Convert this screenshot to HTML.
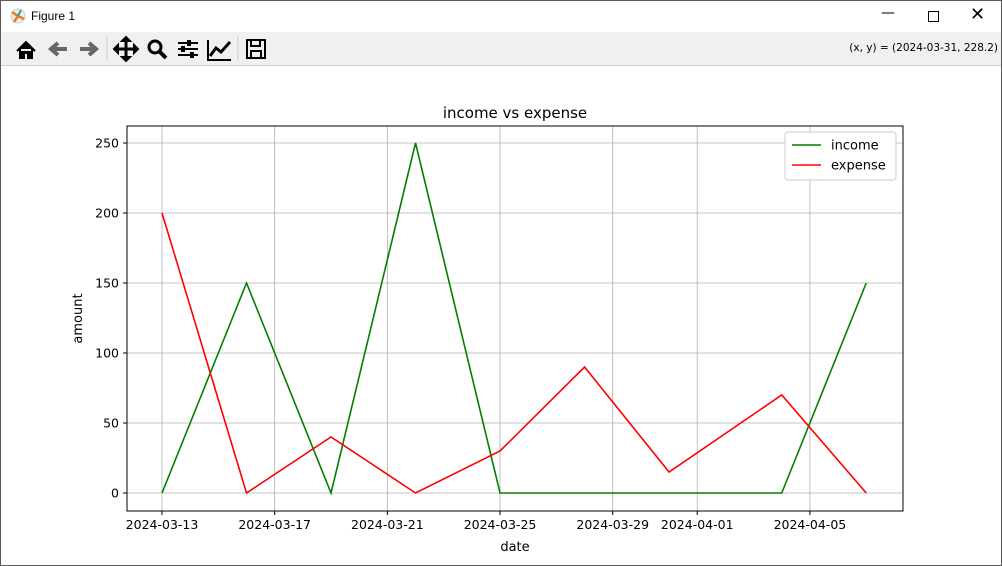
<!DOCTYPE html>
<html><head><meta charset="utf-8"><style>
body{margin:0;width:1002px;height:566px;overflow:hidden;background:#fff;font-family:"DejaVu Sans","Liberation Sans",sans-serif;}
#win{position:absolute;left:0;top:0;width:1000px;height:564px;border:1px solid #5a5a5a;background:#fff;}
#title{position:absolute;left:0;top:0;width:1000px;height:31px;background:#fff;}
#tb{position:absolute;left:0;top:31px;width:1000px;height:33px;background:#f0f0f0;border-bottom:1px solid #d0d0d0;}
</style></head><body>
<div id="win">
<div id="title">
 <svg width="20" height="20" style="position:absolute;left:8px;top:6px"><circle cx="9" cy="9" r="7" fill="#eee" stroke="#ccc"/><path d="M9 9L3 5M9 9L5 15M9 9L15 12" stroke="#e87a1a" stroke-width="2.5"/><path d="M9 9L12 3" stroke="#3a8" stroke-width="2"/></svg>
 <span style="position:absolute;left:30px;top:8px;font-size:12px;font-family:'Liberation Sans',sans-serif">Figure 1</span>
 <span style="position:absolute;left:880px;top:4px;font-size:14px">—</span>
 <div style="position:absolute;left:927px;top:10px;width:9px;height:9px;border:1px solid #000"></div>
 <span style="position:absolute;left:969px;top:3px;font-size:18px">✕</span>
</div>
<div id="tb">
 <svg width="1000" height="33" style="position:absolute;left:0;top:0">
  <g><path d="M16 19L25 10L34 19M19 17V26H23V21H27V26H31V17" fill="#000" stroke="#000" stroke-width="2"/></g>
  <g><path d="M66 17H51M57 11L50 17L57 23" stroke="#666" stroke-width="4" fill="none"/></g>
  <g><path d="M79 17H94M88 11L95 17L88 23" stroke="#666" stroke-width="4" fill="none"/></g>
  <line x1="106" y1="5" x2="106" y2="29" stroke="#ccc"/>
  <g><path d="M125 6V28M114 17H136" stroke="#000" stroke-width="3"/><path d="M121 9L125 5L129 9ZM121 25L125 29L129 25ZM117 13L113 17L117 21ZM133 13L137 17L133 21Z" fill="#000" stroke="#000" stroke-width="2"/></g>
  <g><circle cx="154" cy="15" r="6" stroke="#000" stroke-width="3" fill="none"/><path d="M158 19L165 26" stroke="#000" stroke-width="4"/></g>
  <g><path d="M177 11H197M177 17H197M177 23H197" stroke="#000" stroke-width="2"/><rect x="186" y="8" width="4" height="6" fill="#000"/><rect x="180" y="14" width="4" height="6" fill="#000"/><rect x="189" y="20" width="4" height="6" fill="#000"/></g>
  <g><path d="M207 8V28H230" stroke="#000" stroke-width="2" fill="none"/><path d="M209 24L215 16L220 20L229 10" stroke="#000" stroke-width="3" fill="none"/></g>
  <line x1="237" y1="5" x2="237" y2="29" stroke="#ccc"/>
  <g><rect x="246" y="8" width="18" height="18" fill="none" stroke="#000" stroke-width="2"/><rect x="250" y="8" width="9" height="6" fill="none" stroke="#000" stroke-width="2"/><rect x="250" y="19" width="10" height="7" fill="none" stroke="#000" stroke-width="2"/></g>
 </svg>
 <span style="position:absolute;right:3px;top:10px;font-size:10.5px;white-space:nowrap">(x, y) = (2024-03-31, 228.2)</span>
</div>
<svg id="chart" width="1000" height="500" style="position:absolute;left:0;top:65px"></svg>
</div>
<script>
const dates=["2024-03-13","2024-03-16","2024-03-19","2024-03-22","2024-03-25","2024-03-28","2024-03-31","2024-04-04","2024-04-07"];
const income=[0,150,0,250,0,0,0,0,150];
const expense=[200,0,40,0,30,90,15,70,0];
const xTicks=["2024-03-13","2024-03-17","2024-03-21","2024-03-25","2024-03-29","2024-04-01","2024-04-05"];
const yTicks=[0,50,100,150,200,250];
const svg=document.getElementById('chart');const NS="http://www.w3.org/2000/svg";
const OFF=65;
const L=126,R=902,T=125-OFF,B=510-OFF;
const d0=Date.parse("2024-03-13"),day=86400000;
const X=s=>161+(Date.parse(s)-d0)/day*28.17;
const Y=v=>(492-OFF)-v*1.4;
function el(t,a,txt){const e=document.createElementNS(NS,t);for(const k in a)e.setAttribute(k,a[k]);if(txt!==undefined)e.textContent=txt;svg.appendChild(e);return e;}
let e;
xTicks.forEach(t=>{const x=X(t);
 e=el('line',{x1:x,x2:x,y1:T,y2:B,stroke:'#b0b0b0','stroke-width':0.8});
 
 el('line',{x1:x,x2:x,y1:B,y2:B+4,stroke:'#000'});
 e=el('text',{x:x,y:B+18,'text-anchor':'middle','font-size':12.5},t);
 });
yTicks.forEach(v=>{const y=Y(v);
 e=el('line',{x1:L,x2:R,y1:y,y2:y,stroke:'#b0b0b0','stroke-width':0.8});
 
 el('line',{x1:L-4,x2:L,y1:y,y2:y,stroke:'#000'});
 e=el('text',{x:L-8,y:y+4.5,'text-anchor':'end','font-size':12.5},v);
 });
function line(arr,c,n){e=el('polyline',{points:arr.map((v,i)=>X(dates[i])+','+Y(v)).join(' '),fill:'none',stroke:c,'stroke-width':1.6});
 }
line(income,'green','income-line');line(expense,'red','expense-line');
e=el('rect',{x:L,y:T,width:R-L,height:B-T,fill:'none',stroke:'#000','stroke-width':1});

e=el('text',{x:(L+R)/2,y:T-8,'text-anchor':'middle','font-size':15},'income vs expense');

e=el('text',{x:(L+R)/2,y:B+40,'text-anchor':'middle','font-size':13},'date');

e=el('text',{x:81,y:(T+B)/2,'text-anchor':'middle','font-size':13,transform:`rotate(-90 81 ${(T+B)/2})`},'amount');

e=el('rect',{x:784,y:131-OFF,width:111,height:48,rx:3,fill:'#fff',stroke:'#ccc'});

[['income','green'],['expense','red']].forEach((p,i)=>{const y=144-OFF+i*20;
 el('line',{x1:791,x2:820,y1:y,y2:y,stroke:p[1],'stroke-width':1.6});
 e=el('text',{x:830,y:y+4.5,'font-size':13},p[0]);
 });
</script>
</body></html>
